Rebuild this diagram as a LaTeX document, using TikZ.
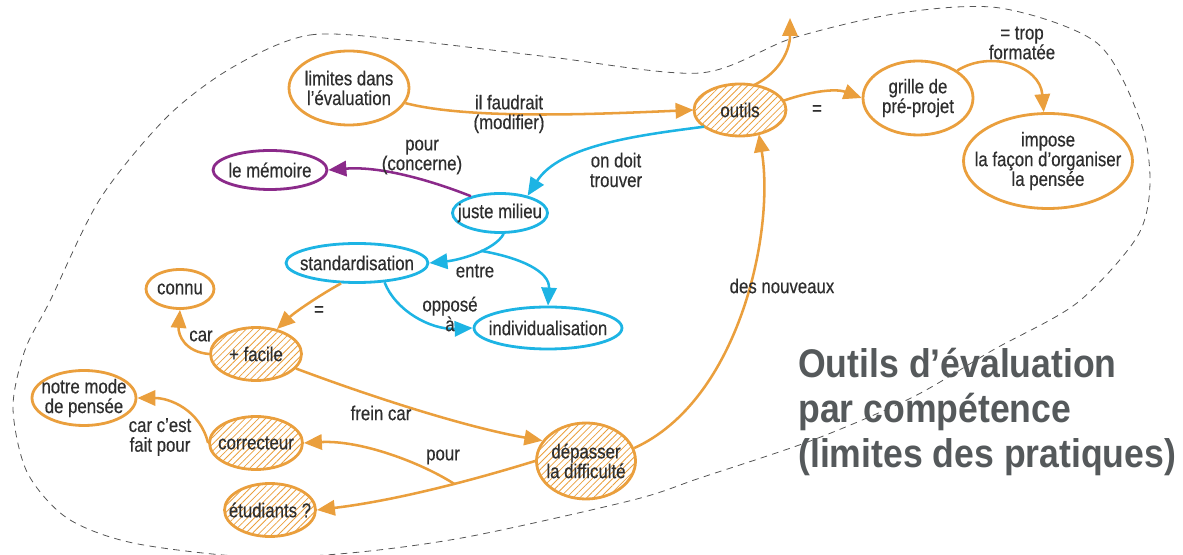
\documentclass[tikz,border=0pt]{standalone}
\usepackage{fontspec}
\setmainfont[FakeStretch=0.84,FakeBold=0.4]{Liberation Sans}
\newfontfamily\titlefont[FakeStretch=0.89]{Liberation Sans}
\usetikzlibrary{shapes.geometric,arrows.meta,patterns.meta}
\definecolor{orng}{HTML}{EA9F3D}
\definecolor{cyn}{HTML}{1DB4E4}
\definecolor{purp}{HTML}{8B2A8A}
\definecolor{txt}{HTML}{2E2E2E}
\definecolor{ttl}{HTML}{55595B}
\definecolor{bordc}{HTML}{555555}
\newcommand{\lblfont}{\fontsize{15}{14.8}\selectfont}
\tikzset{
  ell/.style={ellipse,line width=2.1pt,inner xsep=-80pt,inner ysep=-40pt,align=center,text=txt,font=\lblfont},
  on/.style={ell,draw=orng,fill=white},
  hn/.style={ell,draw=orng,pattern={Lines[angle=45,distance=3.6pt,line width=0.6pt]},pattern color=orng},
  cn/.style={ell,draw=cyn,fill=white},
  pn/.style={ell,draw=purp,fill=white},
  tipx/.style={-{Triangle[length=13.5pt,width=11.5pt]}},
  oarr/.style={draw=orng,line width=1.9pt,tipx},
  carr/.style={draw=cyn,line width=1.9pt,tipx},
  parr/.style={draw=purp,line width=1.9pt,tipx},
  lab/.style={text=txt,font=\lblfont,align=center,inner sep=0pt},
  ttlst/.style={text=ttl,font=\titlefont\bfseries\fontsize{30}{34}\selectfont,inner sep=0pt,anchor=base west},
  bord/.style={draw=bordc,line width=0.6pt,dash pattern=on 5pt off 4pt}
}
\begin{document}
\begin{tikzpicture}[x=0.75pt,y=-0.75pt]
\useasboundingbox (0,0) rectangle (1183,555);
% boundary
\draw[bord] plot[smooth cycle,tension=0.5] coordinates {
 (233,67) (310,35) (413,41) (550,57) (700,73) (793,38) (900,13) (1000,8)
 (1097,43) (1140,120) (1150,183) (1137,237) (1077,303) (993,350) (913,397)
 (813,440) (700,478) (633,500) (467,537) (350,553) (250,557) (133,543)
 (67,518) (27,472) (13,408) (25,350) (50,301) (100,199) (167,117)};
% title
\node[ttlst] (t1) at (798,378) {Outils d’évaluation};
\node[ttlst] (t2) at (798,423) {par compétence};
\node[ttlst] (t3) at (798,468) {(limites des pratiques)};
% nodes
\node[on,minimum width=90pt,minimum height=55.5pt] (lim) at (349,88) {limites dans\\l’évaluation};
\node[hn,minimum width=69pt,minimum height=39pt] (out) at (740,110) {outils};
\node[on,minimum width=82.5pt,minimum height=55.5pt] (gri) at (918,98) {grille de\\pré-projet};
\node[on,minimum width=126.75pt,minimum height=71.25pt] (imp) at (1048,161) {impose\\la façon d’organiser\\la pensée};
\node[pn,minimum width=85.5pt,minimum height=29.25pt] (mem) at (270,170) {le mémoire};
\node[cn,minimum width=71.25pt,minimum height=29.25pt] (jm) at (500,213) {juste milieu};
\node[cn,minimum width=106.5pt,minimum height=29.25pt] (std) at (357,263) {standardisation};
\node[cn,minimum width=111pt,minimum height=31.5pt] (ind) at (548,328) {individualisation};
\node[on,minimum width=51pt,minimum height=29.25pt] (con) at (180,289) {connu};
\node[hn,minimum width=68.25pt,minimum height=39.75pt] (fac) at (256,354) {+ facile};
\node[on,minimum width=78pt,minimum height=41.25pt] (not) at (84,398) {notre mode\\de pensée};
\node[hn,minimum width=69.75pt,minimum height=39.75pt] (cor) at (256,443) {correcteur};
\node[hn,minimum width=68.25pt,minimum height=39.75pt] (etu) at (270,510) {étudiants ?};
\node[hn,minimum width=74.25pt,minimum height=57pt] (dep) at (586,461) {dépasser\\la difficulté};
\coordinate (up) at (790,18);
% connectors
\draw[oarr] (lim.-15) .. controls (470,120) and (600,114) .. (out.west);
\draw[oarr] (out.60) .. controls (780,72) and (790,50) .. (up);
\draw[oarr] (out.12) .. controls (808,92) and (835,88) .. (gri.west);
\draw[oarr] (gri.35) .. controls (990,50) and (1040,65) .. (imp.95);
\draw[carr] (out.205) .. controls (640,135) and (560,145) .. (jm.32);
\draw[parr] (jm.150) .. controls (430,180) and (380,166) .. (mem.east);
\draw[carr] (jm.-80) .. controls (495,250) and (460,260) .. (std.east) coordinate[pos=0.42] (br2);
\draw[carr] (br2) .. controls (522,258) and (550,272) .. (ind.north);
\draw[carr] (std.-35) .. controls (395,310) and (430,330) .. (ind.west);
\draw[oarr] (std.-128) .. controls (320,295) and (295,312) .. (fac.50);
\draw[oarr] (fac.west) .. controls (185,352) and (178,335) .. (con.south);
\draw[oarr] (fac.-20) .. controls (380,400) and (470,428) .. (dep.155);
\draw[oarr] (dep.15) .. controls (740,400) and (775,230) .. (out.-52);
\draw[oarr] (dep.west) .. controls (480,478) and (400,500) .. (etu.east) coordinate[pos=0.42] (br);
\draw[oarr] (br) .. controls (420,462) and (360,440) .. (cor.east);
\draw[oarr] (cor.west) .. controls (200,410) and (170,398) .. (not.east);
% labels
\node[lab] (l1) at (509,114) {il faudrait\\(modifier)};
\node[lab] (l2) at (616,170) {on doit\\trouver};
\node[lab] (l3) at (422,157) {pour\\(concerne)};
\node[lab] (l4) at (1022,43) {= trop\\formatée};
\node[lab] (l5) at (817,110) {=};
\node[lab] (l6) at (475,271) {entre};
\node[lab] (l7) at (450,314) {opposé\\à};
\node[lab] (l8) at (319,311) {=};
\node[lab] (l9) at (201,336) {car};
\node[lab] (l10) at (381,413) {frein car};
\node[lab] (l11) at (443,457) {pour};
\node[lab] (l12) at (160,437) {car c’est\\fait pour};
\node[lab] (l13) at (782,286) {des nouveaux};
\end{tikzpicture}
\end{document}
